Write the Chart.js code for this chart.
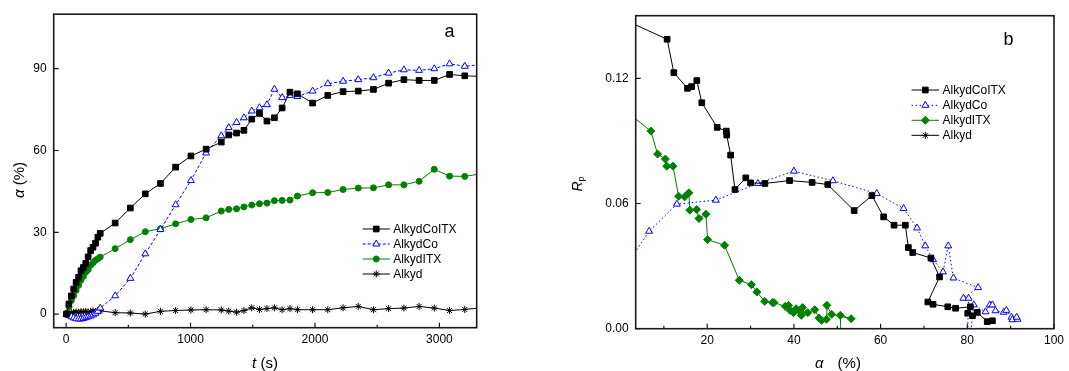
<!DOCTYPE html>
<html>
<head>
<meta charset="utf-8">
<script src="https://cdn.jsdelivr.net/npm/chart.js@4.4.0/dist/chart.umd.min.js"></script>
<style>
    html, body { margin: 0; padding: 0; background: #fff; }
    #wrap { position: relative; width: 1069px; height: 371px; }
    #wrap canvas { position: absolute; top: 0; }
</style>
</head>
<body>
<div id="wrap">
    <canvas id="chartA" width="530" height="371" style="left:0"></canvas>
    <canvas id="chartB" width="539" height="371" style="left:530px"></canvas>
</div>
<script>
// --- DATA: panel a (conversion vs time) ---
const TIME_S = [3, 22, 42, 61, 80, 100, 119, 139, 158, 177, 197, 216, 236, 255, 274,
    394, 516, 636, 758, 880, 1003, 1125, 1247, 1307, 1370, 1429, 1492, 1554, 1614, 1674,
    1736, 1799, 1859, 1981, 2103, 2226, 2348, 2470, 2592, 2715, 2837, 2959, 3082, 3204, 3326];
const A_COITX = [0, 3.7, 6.7, 9.2, 11.6, 13.5, 15.9, 17.1, 18.6, 21.0, 23.3, 24.5, 26.0, 28.2, 29.6,
    33.4, 38.9, 44.1, 47.9, 53.9, 58.0, 60.5, 63.1, 65.7, 66.4, 67.4, 71.5, 73.6, 70.8, 72.0,
    75.6, 81.4, 80.8, 77.4, 80.2, 81.6, 81.8, 82.4, 84.7, 86.0, 85.7, 85.7, 87.9, 87.4, 87.2];
const A_CO = [0, -0.5, -1.0, -1.4, -1.7, -1.8, -1.8, -1.6, -1.3, -1.0, -0.7, -0.3, 0.3, 1.0, 2.2,
    6.7, 13.1, 22.1, 31.0, 40.1, 49.0, 59.1, 65.4, 68.4, 70.3, 72.0, 74.5, 75.7, 76.8, 82.5,
    79.4, 80.2, 79.8, 81.8, 84.5, 85.4, 86.0, 86.7, 88.4, 89.6, 89.4, 90.0, 91.8, 90.9, 91.5];
const A_ITX = [0.3, 2.6, 5.0, 6.8, 8.7, 10.5, 12.4, 13.8, 15.4, 16.3, 17.9, 18.8, 19.7, 20.3, 20.9,
    24.0, 27.3, 30.2, 31.3, 33.1, 34.7, 35.3, 37.8, 38.4, 38.6, 39.3, 40.0, 40.5, 40.7, 41.6,
    41.7, 41.8, 43.3, 44.5, 44.6, 45.7, 46.2, 46.3, 47.4, 47.4, 48.7, 53.1, 50.6, 50.5, 51.4];
const A_ALKYD = [0, 0.3, 0.5, 0.6, 0.8, 0.7, 0.9, 0.8, 1.0, 0.7, 0.9, 1.1, 0.9, 1.0, 1.2,
    0.5, 0.4, 0.0, 1.0, 1.3, 1.5, 1.6, 1.5, 1.1, 0.7, 1.3, 2.3, 1.7, 2.0, 2.3,
    1.6, 2.0, 1.6, 1.6, 1.6, 2.3, 2.8, 1.6, 2.0, 2.2, 2.8, 2.2, 1.3, 1.7, 2.2];

// --- DATA: panel b (Rp vs conversion) ---
const B_COITX_X = [2.0, 10.75, 12.3, 15.45, 16.4, 17.6, 18.75, 22.3, 24.4, 24.5, 25.4, 26.4, 28.9, 30.0,
    33.3, 39.0, 44.2, 47.8, 53.9, 58.0, 60.7, 63.1, 65.7, 66.4, 67.4, 71.6, 73.6, 70.9, 72.1,
    75.5, 77.3, 80.7, 80.1, 81.2, 82.3, 84.6, 85.8];
const B_COITX_Y = [0.147, 0.1387, 0.1227, 0.1152, 0.1160, 0.1189, 0.1083, 0.0965, 0.0947, 0.0928, 0.0832, 0.0667, 0.0723, 0.0699,
    0.0696, 0.0710, 0.0701, 0.0691, 0.0566, 0.0638, 0.0536, 0.0496, 0.0496, 0.0389, 0.0365, 0.0339, 0.0248, 0.0128, 0.0117,
    0.0105, 0.0098, 0.0105, 0.0074, 0.0062, 0.0078, 0.0034, 0.0038];
const B_CO_X = [2.2, 6.6, 13.0, 22.0, 31.7, 40.0, 49.0, 59.1, 65.3, 68.4, 70.3, 72.1, 74.4, 75.6, 76.8,
    82.5, 79.1, 80.3, 79.8, 81.5, 84.2, 85.2, 85.8, 86.5, 88.4, 89.0, 90.2, 90.4, 91.6, 91.4];
const B_CO_Y = [0.033, 0.0467, 0.0597, 0.0616, 0.0696, 0.0755, 0.0709, 0.0648, 0.0576, 0.0483, 0.0397, 0.0331, 0.0272, 0.0397, 0.0243,
    0.0197, 0.0146, 0.0146, -0.02, 0.0114, 0.0081, 0.0114, 0.0114, 0.0086, 0.0079, 0.0088, 0.0055, 0.0043, 0.0045, 0.0055];
const B_ITX_X = [2.6, 7.0, 8.55, 10.35, 10.67, 12.1, 13.4, 14.8, 15.76, 16.0, 17.57, 18.1, 19.7, 20.1, 24.0,
    27.4, 30.2, 31.45, 33.25, 35.06, 35.4, 38.0, 38.75, 39.1, 39.9, 40.5, 41.5, 41.7, 42.0, 43.2,
    44.8, 45.8, 46.4, 47.5, 47.6, 48.7, 53.2, 50.7, 51.1];
const B_ITX_Y = [0.102, 0.0947, 0.0837, 0.0813, 0.0779, 0.0779, 0.0635, 0.0632, 0.0651, 0.0568, 0.0571, 0.0528, 0.0549, 0.0427, 0.0400,
    0.0232, 0.0211, 0.0176, 0.0131, 0.0125, 0.0125, 0.0107, 0.0112, 0.0088, 0.0077, 0.0096, 0.0080, 0.0064, 0.0101, 0.0077,
    0.0091, 0.0051, 0.0040, 0.0045, 0.0112, 0.0069, 0.0048, 0.0064, -0.02];

const SERIES = ['AlkydCoITX', 'AlkydCo', 'AlkydITX', 'Alkyd'];

// ticks
const A_X_MAJOR = [0, 1000, 2000, 3000];
const A_X_MINOR = [500, 1500, 2500];
const A_Y_MAJOR = [0, 30, 60, 90];
const B_X_MAJOR = [20, 40, 60, 80, 100];
const B_X_MINOR = [10, 30, 50, 70, 90];
const B_Y_MAJOR = [0, 0.06, 0.12];

// --- STYLES ---
const FONT = '"Liberation Sans", Arial, sans-serif';
Chart.defaults.font.family = FONT;
Chart.defaults.font.size = 12;
Chart.defaults.color = '#000';

const STYLE_A = [
    { color: '#000000', fill: '#000000', pointStyle: 'rect', radius: 4, dash: [] },
    { color: '#0000ff', fill: '#ffffff', pointStyle: 'triangle', radius: 4, dash: [3, 2] },
    { color: '#008000', fill: '#008000', pointStyle: 'circle', radius: 3, dash: [] },
    { color: '#000000', fill: '#000000', pointStyle: 'star', radius: 3.5, dash: [] }
];
const STYLE_B = [
    { color: '#000000', fill: '#000000', pointStyle: 'rect', radius: 4, dash: [] },
    { color: '#0000ff', fill: '#ffffff', pointStyle: 'triangle', radius: 4, dash: [1.5, 2.5] },
    { color: '#008000', fill: '#008000', pointStyle: 'rectRot', radius: 4, dash: [] },
    { color: '#000000', fill: '#000000', pointStyle: 'star', radius: 3.5, dash: [] }
];

const toPts = (xs, ys) => xs.map((x, i) => ({ x, y: ys[i] }));

const makeDataset = (label, pts, st) => ({
    label,
    data: pts,
    showLine: true,
    tension: 0,
    clip: 0,
    borderColor: st.color,
    backgroundColor: st.fill,
    borderWidth: 1,
    borderDash: st.dash,
    pointStyle: st.pointStyle,
    pointRadius: st.radius,
    pointBorderColor: st.color,
    pointBackgroundColor: st.fill,
    pointBorderWidth: 1
});

// text with mixed styles, centred on (x, y)
const drawParts = (ctx, parts, x, y) => {
    let total = 0;
    parts.forEach(p => { ctx.font = p.font; total += ctx.measureText(p.text).width + (p.gap || 0); });
    let cx = x - total / 2;
    parts.forEach(p => {
        ctx.font = p.font;
        ctx.fillText(p.text, cx, y + (p.dy || 0));
        cx += ctx.measureText(p.text).width + (p.gap || 0);
    });
};

// frame, inward ticks, legend and titles
const framePlugin = {
    id: 'frame',
    afterDraw(chart, args, o) {
        const { ctx, chartArea: a } = chart;
        const xs = chart.scales.x, ys = chart.scales.y;
        ctx.save();
        ctx.setLineDash([]);
        ctx.strokeStyle = '#1a1a1a';
        ctx.lineWidth = 1.6;
        ctx.strokeRect(a.left, a.top, a.right - a.left, a.bottom - a.top);

        ctx.lineWidth = 1.2;
        ctx.beginPath();
        o.xMajor.forEach(v => { const px = xs.getPixelForValue(v); ctx.moveTo(px, a.bottom); ctx.lineTo(px, a.bottom - 5); });
        o.xMinor.forEach(v => { const px = xs.getPixelForValue(v); ctx.moveTo(px, a.bottom); ctx.lineTo(px, a.bottom - 3); });
        o.yMajor.forEach(v => { const py = ys.getPixelForValue(v); ctx.moveTo(a.left, py); ctx.lineTo(a.left + 5, py); });
        ctx.stroke();

        // legend
        const lg = o.legend;
        chart.data.datasets.forEach((ds, i) => {
            const y = lg.ys[i];
            ctx.save();
            ctx.strokeStyle = ds.borderColor;
            ctx.lineWidth = 1;
            ctx.setLineDash(ds.borderDash || []);
            ctx.beginPath();
            ctx.moveTo(lg.x1, y);
            ctx.lineTo(lg.x2, y);
            ctx.stroke();
            ctx.setLineDash([]);
            ctx.fillStyle = ds.pointBackgroundColor;
            ctx.strokeStyle = ds.pointBorderColor;
            const cx = (lg.x1 + lg.x2) / 2;
            if (Chart.helpers && Chart.helpers.drawPoint) {
                Chart.helpers.drawPoint(ctx, { pointStyle: ds.pointStyle, radius: ds.pointRadius, borderWidth: 1, rotation: 0 }, cx, y);
            }
            ctx.restore();
            ctx.fillStyle = '#000';
            ctx.font = '12px ' + FONT;
            ctx.textAlign = 'left';
            ctx.textBaseline = 'middle';
            ctx.fillText(ds.label, lg.textX, y + 0.5);
        });

        // panel letter
        ctx.fillStyle = '#000';
        ctx.font = '18px ' + FONT;
        ctx.textAlign = 'center';
        ctx.textBaseline = 'middle';
        ctx.fillText(o.letter.text, o.letter.x, o.letter.y);

        // axis titles
        ctx.textAlign = 'left';
        ctx.textBaseline = 'middle';
        drawParts(ctx, o.xTitle.parts, o.xTitle.x, o.xTitle.y);
        ctx.save();
        ctx.translate(o.yTitle.x, o.yTitle.y);
        ctx.rotate(-Math.PI / 2);
        drawParts(ctx, o.yTitle.parts, 0, 0);
        ctx.restore();
        ctx.restore();
    }
};

const fixedTicks = (vals) => (scale) => { scale.ticks = vals.map(v => ({ value: v })); };

const axis = (min, max, major, fit, pad, fmt) => ({
    type: 'linear',
    min, max,
    grid: { display: false, drawTicks: false },
    border: { display: false },
    afterBuildTicks: fixedTicks(major),
    afterFit: fit,
    ticks: { padding: pad, maxRotation: 0, font: { size: 12 }, color: '#000', callback: fmt || (v => v) }
});

// --- PANEL a ---
new Chart(document.getElementById('chartA'), {
    type: 'scatter',
    data: {
        datasets: [
            makeDataset(SERIES[0], toPts(TIME_S, A_COITX), STYLE_A[0]),
            makeDataset(SERIES[1], toPts(TIME_S, A_CO), STYLE_A[1]),
            makeDataset(SERIES[2], toPts(TIME_S, A_ITX), STYLE_A[2]),
            makeDataset(SERIES[3], toPts(TIME_S, A_ALKYD), STYLE_A[3])
        ]
    },
    options: {
        responsive: false,
        animation: false,
        layout: { padding: { top: 13.7, right: 53.3, left: 0, bottom: 0 } },
        scales: {
            x: axis(-100, 3300, A_X_MAJOR, s => { s.height = 43.3; }, 5),
            y: axis(-5, 110, A_Y_MAJOR, s => { s.width = 53.7; }, 7)
        },
        plugins: {
            legend: { display: false },
            tooltip: { enabled: false },
            frame: {
                xMajor: A_X_MAJOR, xMinor: A_X_MINOR, yMajor: A_Y_MAJOR,
                legend: { x1: 362.7, x2: 389.8, textX: 393.2, ys: [229, 244, 259, 274] },
                letter: { text: 'a', x: 449.6, y: 31.7 },
                xTitle: { x: 265, y: 363.5, parts: [
                    { text: 't', font: 'italic 15px ' + FONT },
                    { text: ' (s)', font: '15px ' + FONT }
                ] },
                yTitle: { x: 20, y: 180, parts: [
                    { text: 'α', font: 'italic 15px ' + FONT },
                    { text: ' (%)', font: '15px ' + FONT }
                ] }
            }
        }
    },
    plugins: [framePlugin]
});

// --- PANEL b ---
new Chart(document.getElementById('chartB'), {
    type: 'scatter',
    data: {
        datasets: [
            makeDataset(SERIES[0], toPts(B_COITX_X, B_COITX_Y), STYLE_B[0]),
            makeDataset(SERIES[1], toPts(B_CO_X, B_CO_Y), STYLE_B[1]),
            makeDataset(SERIES[2], toPts(B_ITX_X, B_ITX_Y), STYLE_B[2]),
            makeDataset(SERIES[3], [], STYLE_B[3])
        ]
    },
    options: {
        responsive: false,
        animation: false,
        layout: { padding: { top: 15.7, right: 10, left: 0, bottom: 0 } },
        scales: {
            x: axis(3.5, 100, B_X_MAJOR, s => { s.height = 42.3; }, 5),
            y: axis(0, 0.15, B_Y_MAJOR, s => { s.width = 105.7; }, 7, v => v.toFixed(2))
        },
        plugins: {
            legend: { display: false },
            tooltip: { enabled: false },
            frame: {
                xMajor: B_X_MAJOR, xMinor: B_X_MINOR, yMajor: B_Y_MAJOR,
                legend: { x1: 381.6, x2: 409, textX: 412.5, ys: [90, 105.3, 120.3, 135.3] },
                letter: { text: 'b', x: 478.5, y: 40 },
                xTitle: { x: 308, y: 363.5, parts: [
                    { text: 'α', font: 'italic 15px ' + FONT, gap: 14 },
                    { text: '(%)', font: '15px ' + FONT }
                ] },
                yTitle: { x: 48, y: 184, parts: [
                    { text: 'R', font: 'italic 14px ' + FONT },
                    { text: 'p', font: '9px ' + FONT, dy: 4 }
                ] }
            }
        }
    },
    plugins: [framePlugin]
});
</script>
</body>
</html>
